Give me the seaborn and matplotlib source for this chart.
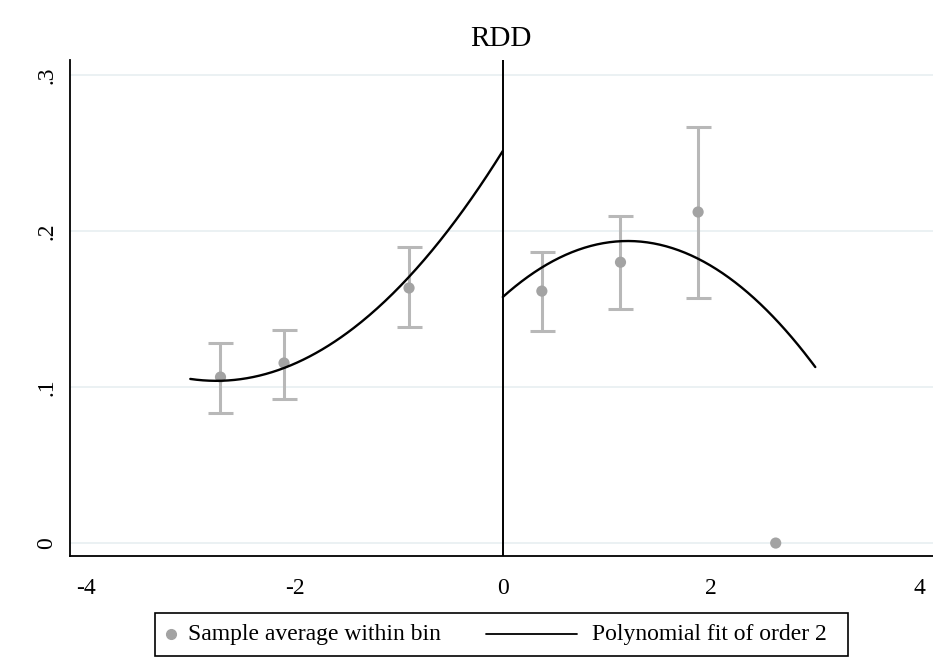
import matplotlib
matplotlib.use("Agg")
import matplotlib.pyplot as plt
import seaborn as sns
import numpy as np
import pandas as pd
from matplotlib.lines import Line2D
from matplotlib.patches import Rectangle

# bin averages with confidence intervals
bin_x = [-2.71, -2.10, -0.90, 0.375, 1.13, 1.875, 2.62]
bin_y = [0.1064, 0.1154, 0.1635, 0.1615, 0.180, 0.2122, 0.0]
ci_low = [0.0833, 0.0923, 0.1385, 0.1359, 0.150, 0.157, np.nan]
ci_high = [0.128, 0.1365, 0.1897, 0.1865, 0.2096, 0.2667, np.nan]

# polynomial fit of order 2 (c2, c1, c0) on each side of cutoff
left_coef = [0.01948, 0.10714, 0.2513]
right_coef = [-0.02493, 0.05983, 0.1577]
left_range = [-3, 0]
right_range = [0, 3]

legend_labels = ["Sample average within bin", "Polynomial fit of order 2"]

sns.set_style("white")
plt.rcParams['font.family'] = ['Liberation Serif', 'DejaVu Serif']
plt.rcParams['text.color'] = "black"
plt.rcParams['xtick.color'] = "black"
plt.rcParams['ytick.color'] = "black"

fig = plt.figure(figsize=(9.33, 6.67), dpi=100)
ax = fig.add_axes([0.075, 0.1664, 0.925, 0.7436])

gray_pt = "#a3a3a3"
gray_ci = "#b8b8b8"

ax.errorbar(bin_x, bin_y,
            yerr=[np.array(bin_y) - np.array(ci_low), np.array(ci_high) - np.array(bin_y)],
            fmt="none", ecolor=gray_ci, elinewidth=2.2, capsize=9, capthick=2.2, zorder=2)
bins = pd.DataFrame({"x": bin_x, "y": bin_y})
sns.scatterplot(data=bins, x="x", y="y", ax=ax, color=gray_pt, s=65, edgecolor="none", zorder=3)

xl = np.linspace(left_range[0], left_range[1], 200)
xr = np.linspace(right_range[0], right_range[1], 200)
sns.lineplot(x=xl, y=np.polyval(left_coef, xl), ax=ax, color="black", lw=1.7, zorder=4)
sns.lineplot(x=xr, y=np.polyval(right_coef, xr), ax=ax, color="black", lw=1.7, zorder=4)

ax.axvline(0, color="black", lw=1.4, zorder=1)

ax.set_xlim(-4.155, 4.13)
ax.set_ylim(-0.0083, 0.3096)
ax.set_xticks([-4, -2, 0, 2, 4])
ax.set_xticklabels(["-4", "-2", "0", "2", "4"])
ax.set_yticks([0, 0.1, 0.2, 0.3])
ax.set_yticklabels(["0", ".1", ".2", ".3"], rotation=90, va="center")
ax.tick_params(axis="both", length=9, width=1.2, color="black", labelsize=17, direction="out")
ax.tick_params(axis="x", pad=7)
ax.tick_params(axis="y", pad=0)
ax.yaxis.grid(True, color="#e8eff1", lw=1.2)
ax.xaxis.grid(False)
for s in ["top", "right"]:
    ax.spines[s].set_visible(False)
for s in ["left", "bottom"]:
    ax.spines[s].set_color("black")
    ax.spines[s].set_linewidth(1.3)
ax.set_xlabel("")
ax.set_ylabel("")

fig.text(0.537, 0.931, "RDD", fontsize=21, ha="center", va="baseline")

# legend box drawn below the plot, Stata style
fig.add_artist(Rectangle((0.1661, 0.0165), 0.7428, 0.0645, transform=fig.transFigure,
                         facecolor="white", edgecolor="black", lw=1.2))
fig.add_artist(Line2D([0.1833], [0.0495], transform=fig.transFigure, marker="o",
                      color=gray_pt, markersize=7, ls="none"))
fig.text(0.2015, 0.048, legend_labels[0], fontsize=17, va="center", ha="left")
fig.add_artist(Line2D([0.5209, 0.6184], [0.0495, 0.0495], transform=fig.transFigure,
                      color="black", lw=1.3))
fig.text(0.6345, 0.048, legend_labels[1], fontsize=17, va="center", ha="left")

fig.savefig("out.png", dpi=100)
